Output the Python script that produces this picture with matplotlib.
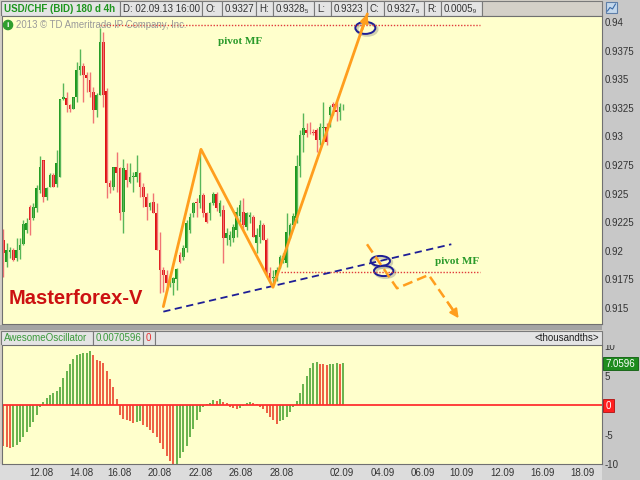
import matplotlib
matplotlib.use("Agg")
import matplotlib.pyplot as plt
from matplotlib.patches import Rectangle, Ellipse, Circle
import numpy as np

plt.rcParams["font.family"] = ["Liberation Sans", "DejaVu Sans"]

YELLOW = "#FFFFCC"
BG = "#D4D0C8"
STRIP = "#C8C8C8"
BOXC = "#E4E4E4"
EDGE = "#7A7A7A"
ORANGE = "#FF9E1E"
NAVY = "#1E1E96"
PIVOT_RED = "#E03A3A"
TXT_GREEN = "#1E961E"
UP, UP_W = "#1C981C", "#58B658"
DN, DN_W = "#DE1212", "#F07474"

# USD/CHF 4h candles (bar index 0 .. 102, last = 02.09.13 16:00)
opens = [.92095, .91905, .91993, .92007, .91934, .92007, .92060, .92182, .92386, .92284,
         .92371, .92532, .92794, .92473, .92560, .92663, .92584, .92648, .93324, .93333,
         .93275, .93237, .93342, .93580, .93615, .93537, .93493, .93391, .93231, .93362,
         .93828, .93400, .92596, .92560, .92736, .92721, .92342, .92706, .92604, .92642,
         .92648, .92677, .92560, .92473, .92380, .92429, .92328, .92007, .91832, .91790,
         .91716, .91716, .91750, .91964, .91949, .92022, .92182, .92328, .92429, .92415,
         .92488, .92328, .92328, .92421, .92497, .92328, .92357, .92109, .92095, .92109,
         .92182, .92300, .92342, .92211, .92299, .92299, .92066, .92124, .92226, .92095,
         .91803, .91760, .91775, .91862, .91920, .91891, .92124, .92226, .92284, .92741,
         .93012, .93056, .93042, .93040, .93056, .92969, .93071, .93085, .93187, .93283,
         .93231, .93216, .93270]
highs = [.92188, .92066, .92036, .92022, .92109, .92109, .92269, .92284, .92400, .92415,
         .92575, .92829, .92794, .92560, .92677, .92677, .92881, .93327, .93470, .93391,
         .93280, .93342, .93653, .93761, .93644, .93566, .93566, .93435, .93377, .93945,
         .93915, .93420, .92619, .92736, .92867, .92736, .92800, .92765, .92765, .92692,
         .92838, .92692, .92590, .92503, .92429, .92503, .92421, .92167, .91862, .91830,
         .91760, .91775, .91850, .91993, .92051, .92269, .92328, .92429, .92459, .92887,
         .92502, .92342, .92430, .92510, .92510, .92440, .92400, .92200, .92170, .92230,
         .92386, .92440, .92459, .92342, .92342, .92310, .92197, .92269, .92240, .92109,
         .91862, .91832, .91860, .91964, .91980, .92328, .92240, .92330, .92838, .93056,
         .93202, .93120, .93129, .93060, .93071, .93114, .93304, .93114, .93275, .93304,
         .93304, .93289, .93285]
lows = [.91774, .91862, .91934, .91914, .91914, .91926, .92050, .92153, .92138, .92269,
        .92342, .92503, .92429, .92444, .92560, .92560, .92560, .92648, .93320, .93216,
        .93216, .93237, .93304, .93537, .93304, .93391, .93347, .93114, .93172, .93362,
        .93260, .92459, .92503, .92532, .92517, .92269, .92153, .92560, .92590, .92517,
        .92604, .92473, .92386, .92269, .92357, .92328, .92007, .91629, .91640, .91658,
        .91680, .91614, .91658, .91891, .91920, .91993, .92153, .92299, .92299, .92371,
        .92299, .92240, .92270, .92400, .92350, .92300, .91891, .92050, .92040, .92080,
        .92124, .92250, .92182, .92182, .92240, .92124, .91978, .92066, .92095, .91774,
        .91730, .91701, .91740, .91850, .91890, .91862, .92109, .92200, .92240, .92648,
        .92867, .92998, .93020, .93010, .92867, .92925, .92940, .92925, .93085, .93187,
        .93130, .93140, .93230]
closes = [.91978, .92007, .92007, .91920, .92007, .92051, .92235, .92240, .92269, .92380,
          .92546, .92736, .92473, .92546, .92663, .92560, .92765, .93327, .93342, .93275,
          .93237, .93342, .93580, .93615, .93537, .93513, .93391, .93231, .93362, .93828,
          .93362, .92590, .92560, .92736, .92677, .92328, .92721, .92619, .92648, .92654,
          .92692, .92560, .92473, .92386, .92421, .92328, .92007, .91832, .91790, .91716,
          .91740, .91760, .91840, .91906, .92022, .92240, .92299, .92415, .92415, .92488,
          .92328, .92255, .92421, .92497, .92371, .92421, .92109, .92153, .92138, .92211,
          .92342, .92400, .92226, .92328, .92310, .92124, .92138, .92226, .92095, .91803,
          .91760, .91775, .91832, .91949, .91950, .92167, .92226, .92300, .92741, .93012,
          .93071, .93027, .93035, .93027, .92969, .93085, .93085, .92954, .93260, .93260,
          .93216, .93260, .93275]

# Awesome Oscillator, thousandths
ao = [-6.9, -7.1, -7.3, -7.1, -6.8, -6.3, -5.4, -4.6, -3.7, -2.9,
      -1.6, -0.4, 0.5, 1.2, 1.75, 2.0, 2.4, 3.1, 4.6, 5.8,
      6.9, 7.85, 8.5, 8.6, 8.8, 8.9, 9.1, 8.5, 7.6, 7.5,
      7.2, 5.8, 4.4, 3.0, 1.0, -1.6, -2.4, -2.6, -2.65, -3.1,
      -2.8, -2.75, -3.3, -3.8, -4.2, -4.7, -5.5, -6.5, -7.5, -8.6,
      -9.5, -10.1, -10.0, -9.0, -8.0, -6.9, -5.4, -4.0, -2.5, -1.1,
      -0.3, 0.2, 0.4, 0.85, 0.7, 1.0, 0.5, 0.35, -0.3, -0.5,
      -0.6, -0.5, -0.2, 0.3, 0.6, 0.3, 0.2, -0.3, -0.7, -1.3,
      -2.0, -2.5, -3.2, -2.7, -2.5, -2.0, -1.1, -0.4, 0.7, 2.0,
      3.5, 4.9, 6.3, 7.1, 7.3, 7.0, 6.95, 6.85, 6.95, 7.0,
      7.1, 6.95, 7.06]

date_labels = ["12.08", "14.08", "16.08", "20.08", "22.08", "26.08", "28.08",
               "02.09", "04.09", "06.09", "10.09", "12.09", "16.09", "18.09"]
date_pos = [11.5, 23.3, 34.7, 47.0, 59.3, 71.3, 83.4, 101.4, 113.7, 125.7,
            137.4, 149.8, 161.8, 173.8]
price_ticks = [0.915, 0.9175, 0.92, 0.9225, 0.925, 0.9275, 0.93, 0.9325, 0.935, 0.9375, 0.94]
price_labels = ["0.915", "0.9175", "0.92", "0.9225", "0.925", "0.9275", "0.93",
                "0.9325", "0.935", "0.9375", "0.94"]
ao_ticks = [10, 5, -5, -10]

# drawn analysis
pivot_top, pivot_top_x = 0.9397, (29, 143)
pivot_low, pivot_low_x = 0.91818, (83.4, 143)
zigzag_x = [48.0, 59.3, 80.9, 109.2]
zigzag_y = [0.91512, 0.92887, 0.91681, 0.94070]
trend_x = [48.0, 134.4]
trend_y = [0.91468, 0.92057]
proj_x = [109.1, 118.1, 127.6, 136.6]
proj_y = [0.92057, 0.91672, 0.91789, 0.91410]
circles = [(108.6, 0.93948, 6.0, 0.00105), (113.1, 0.91911, 5.8, 0.00088),
           (114.1, 0.91824, 5.8, 0.00090)]

W, H = 640, 480
fig = plt.figure(figsize=(6.4, 4.8), dpi=100, facecolor=BG)


def pix_axes(rect, z):
    a = fig.add_axes(rect, zorder=z)
    a.set_xlim(0, W)
    a.set_ylim(H, 0)
    a.axis("off")
    a.patch.set_alpha(0)
    return a


# background strips
bg = pix_axes([0, 0, 1, 1], 0)
bg.add_patch(Rectangle((602, 16), 38, 464, color=STRIP, lw=0))
bg.add_patch(Rectangle((0, 324.5), 602, 5, color="#A4A4A4", lw=0))
bg.add_patch(Rectangle((0, 464), 602, 16, color="#DCDCDC", lw=0))

xs = np.arange(len(closes))
o, h, l, c = map(np.array, (opens, highs, lows, closes))
up = c >= o

# ---------- price panel ----------
ax = fig.add_axes([2 / W, 156 / H, 600 / W, 308 / H], zorder=3)
ax.set_facecolor(YELLOW)
ax.vlines(xs, l, h, colors=np.where(up, UP_W, DN_W), lw=1.0)
ax.bar(xs, np.maximum(np.abs(c - o), 0.00005), bottom=np.minimum(o, c), width=0.72,
       color=np.where(up, UP, DN), lw=0)

ax.hlines(pivot_top, *pivot_top_x, colors=PIVOT_RED, lw=1.0, linestyles=(0, (1, 1.2)))
ax.hlines(pivot_low, *pivot_low_x, colors=PIVOT_RED, lw=1.0, linestyles=(0, (1, 1.2)))
ax.text(71.1, 0.93830, "pivot MF", color="#2A9A2A", fontsize=8, fontweight="bold",
        family="Liberation Serif", ha="center", va="center")
ax.text(136.2, 0.91905, "pivot MF", color="#2A9A2A", fontsize=8, fontweight="bold",
        family="Liberation Serif", ha="center", va="center")

ax.plot(trend_x, trend_y, color=NAVY, lw=1.3, dashes=(4, 2.5))
ax.plot(zigzag_x, zigzag_y, color=ORANGE, lw=2.0, clip_on=False, solid_capstyle="round")
ax.annotate("", xy=(zigzag_x[-1], zigzag_y[-1]), xytext=(107.6, 0.93935),
            arrowprops=dict(arrowstyle="-|>", color=ORANGE, lw=2.0, mutation_scale=11,
                            shrinkA=0, shrinkB=0, clip_on=False), annotation_clip=False)
ax.plot(proj_x[:-1] + [134.8], proj_y[:-1] + [0.91487], color=ORANGE, lw=1.8,
        dashes=(4, 2))
ax.annotate("", xy=(proj_x[-1], proj_y[-1]), xytext=(133.6, 0.91537),
            arrowprops=dict(arrowstyle="-|>", color=ORANGE, lw=1.5, mutation_scale=13,
                            shrinkA=0, shrinkB=0))

for cx, cy, ew, eh in circles:
    ax.add_patch(Ellipse((cx + 0.5, cy - 0.00012), ew, eh, fill=False,
                         ec="#9A9A8A", lw=2.2, alpha=0.45, clip_on=False))
    ax.add_patch(Ellipse((cx, cy), ew, eh, fill=False, ec=NAVY, lw=1.4, clip_on=False))

ax.set_xlim(-0.4, 179.6)
ax.set_ylim(0.91360, 0.94052)
ax.set_xticks([])
ax.yaxis.tick_right()
ax.set_yticks(price_ticks)
ax.set_yticklabels(price_labels, fontsize=7, color="#333333")
ax.tick_params(axis="y", length=0, pad=2)
for s in ax.spines.values():
    s.set_color("#707070")
    s.set_linewidth(0.8)

# ---------- oscillator panel ----------
ax2 = fig.add_axes([2 / W, 16 / H, 600 / W, 119 / H], zorder=1)
ax2.set_facecolor(YELLOW)
aov = np.array(ao)
rising = np.r_[False, aov[1:] > aov[:-1]]
ax2.vlines(xs, 0, aov, colors=np.where(rising, "#3E9E2A", "#E8321E"), lw=1.1)
ax2.axhline(0, color="#FF3030", lw=1.3)
ax2.set_xlim(-0.4, 179.6)
ax2.set_ylim(-10.0, 10.2)
ax2.yaxis.tick_right()
ax2.set_yticks(ao_ticks)
ax2.set_yticklabels([str(t) for t in ao_ticks], fontsize=7, color="#333333")
ax2.tick_params(axis="y", length=0, pad=2)
ax2.set_xticks(date_pos)
ax2.set_xticklabels(date_labels, fontsize=7, color="#333333")
ax2.tick_params(axis="x", length=0, pad=3)
for s in ax2.spines.values():
    s.set_color("#707070")
    s.set_linewidth(0.8)


def box(a, x0, x1, y0, y1, text, color="#333333", ha="left", weight="normal", fc=BOXC):
    a.add_patch(Rectangle((x0, y0), x1 - x0, y1 - y0, fc=fc, ec=EDGE, lw=0.8))
    if text:
        tx = x0 + 3 if ha == "left" else (x1 - 3 if ha == "right" else (x0 + x1) / 2)
        a.text(tx, (y0 + y1) / 2 + 0.5, text, color=color, fontsize=7, ha=ha,
               va="center", fontweight=weight)


# ---------- header ----------
hd = fig.add_axes([0, 464 / H, 1, 16 / H], zorder=2)
hd.set_xlim(0, W)
hd.set_ylim(16, 0)
hd.axis("off")
hd.add_patch(Rectangle((0, 0), 602, 16, color=BG, lw=0))
hd.add_patch(Rectangle((602, 0), 38, 16, color=STRIP, lw=0))
items = [(1, 120, "USD/CHF (BID) 180 d 4h", TXT_GREEN, "bold"),
         (120, 202, "D: 02.09.13 16:00", "#333333", "normal"),
         (202, 222, "O:", "#333333", "normal"),
         (222, 256, "0.9327", "#333333", "normal"),
         (256, 273, "H:", "#333333", "normal"),
         (273, 314, "0.9328₅", "#333333", "normal"),
         (314, 331, "L:", "#333333", "normal"),
         (331, 367, "0.9323", "#333333", "normal"),
         (367, 384, "C:", "#333333", "normal"),
         (384, 424, "0.9327₅", "#333333", "normal"),
         (424, 441, "R:", "#333333", "normal"),
         (441, 482, "0.0005₉", "#333333", "normal")]
for x0, x1, t, col, wt in items:
    box(hd, x0, x1, 1, 16, t, col, weight=wt)
box(hd, 482, 602, 1, 16, "", fc=BG)
hd.add_patch(Rectangle((606, 2), 11, 11, fc="#C4D8EC", ec="#5F7FA8", lw=0.8))
hd.plot([607.5, 610, 612.5, 615.5], [11, 7.5, 9, 4], color="#3A6AA8", lw=0.8)

# ---------- oscillator header ----------
oh = fig.add_axes([0, 135 / H, 1, 15 / H], zorder=2)
oh.set_xlim(0, W)
oh.set_ylim(15, 0)
oh.axis("off")
oh.patch.set_alpha(0)
oh.add_patch(Rectangle((0, 0), 602, 15, color=BG, lw=0))
oh.add_patch(Rectangle((602, 0), 38, 15, color=STRIP, lw=0))
box(oh, 1, 93, 0.5, 15, "AwesomeOscillator", "#3A9A3A")
box(oh, 93, 143, 0.5, 15, "0.0070596", "#3A9A3A")
box(oh, 143, 155, 0.5, 15, "0", "#E83030")
box(oh, 155, 602, 0.5, 15, "<thousandths>", "#222222", ha="right")

# ---------- overlay texts ----------
ov = pix_axes([0, 0, 1, 1], 5)
ov.add_patch(Circle((8, 25), 4.6, color="#2E9E2E"))
ov.text(8, 25.5, "i", color="white", fontsize=6, fontweight="bold", ha="center", va="center")
ov.text(16, 25.5, "2013 © TD Ameritrade IP Company, Inc.", color="#9A9A9A", fontsize=6.9,
        va="center", ha="left")
ov.text(9, 298, "Masterforex-V", color="#CC1111", fontsize=14.5, fontweight="bold",
        va="center", ha="left")
ov.add_patch(Rectangle((603, 357), 35, 13, fc="#1E8C1E", ec="#0E5E0E", lw=0.6))
ov.text(620.5, 363.8, "7.0596", color="white", fontsize=7, ha="center", va="center")
ov.add_patch(Rectangle((603, 399), 11, 13, fc="#FF2020", ec="#B01010", lw=0.6))
ov.text(608.5, 405.8, "0", color="white", fontsize=7, ha="center", va="center")

fig.savefig("out.png", dpi=100, facecolor=BG)
